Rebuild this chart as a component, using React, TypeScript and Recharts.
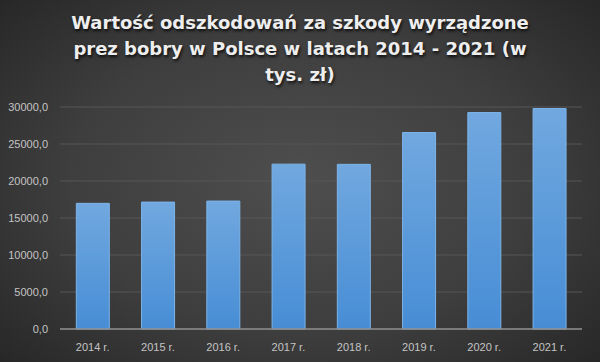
import React from 'react';
import { BarChart, Bar, XAxis, YAxis, CartesianGrid } from 'recharts';

const years = ['2014 r.', '2015 r.', '2016 r.', '2017 r.', '2018 r.', '2019 r.', '2020 r.', '2021 r.'];
const values = [16980, 17150, 17290, 22280, 22250, 26550, 29250, 29790];
const yTicks = [0, 5000, 10000, 15000, 20000, 25000, 30000];
const titleLines = [
  'Wartość odszkodowań za szkody wyrządzone',
  'prez bobry w Polsce w latach 2014 - 2021 (w',
  'tys. zł)',
];

const data = years.map((y, i) => ({ year: y, value: values[i] }));

const fmt = (v: number) => v.toFixed(1).replace('.', ',');

export default function App() {
  return (
    <div
      style={{
        position: 'absolute',
        left: 0,
        top: 0,
        width: 600,
        height: 362,
        background: 'radial-gradient(ellipse 70% 75% at 50% 50%, #4e4e4e 0%, #3e3e3e 55%, #262626 100%)',
        overflow: 'hidden',
      }}
    >
      <div
        style={{
          position: 'absolute',
          left: 0,
          top: 10,
          width: 600,
          textAlign: 'center',
          fontFamily: '"DejaVu Sans", Verdana, sans-serif',
          fontWeight: 'bold',
          fontSize: 18,
          lineHeight: '26px',
          color: '#eeeeee',
          textShadow: '1px 2px 3px rgba(0,0,0,0.8)',
        }}
      >
        {titleLines.map((l, i) => (
          <div key={i}>{l}</div>
        ))}
      </div>
      <div style={{ position: 'absolute', left: 0, top: 0 }}>
        <BarChart
          width={600}
          height={362}
          data={data}
          margin={{ top: 107, right: 18, bottom: 8, left: 0 }}
          barCategoryGap="25%"
        >
          <defs>
            <linearGradient id="barGrad" x1="0" y1="0" x2="0" y2="1">
              <stop offset="0%" stopColor="#71a8df" />
              <stop offset="100%" stopColor="#478dd5" />
            </linearGradient>
          </defs>
          <CartesianGrid vertical={false} stroke="#575757" strokeWidth={1} />
          <XAxis
            dataKey="year"
            axisLine={{ stroke: '#8c8c8c', strokeWidth: 1.5 }}
            tickLine={false}
            tick={{ fill: '#c4c4c4', fontSize: 11, fontFamily: '"Liberation Sans", Arial, sans-serif' }}
            height={25}
            tickMargin={8}
          />
          <YAxis
            domain={[0, 30000]}
            ticks={yTicks}
            tickFormatter={fmt}
            axisLine={false}
            tickLine={false}
            width={60}
            tickMargin={6}
            tick={{ fill: '#c4c4c4', fontSize: 11, fontFamily: '"Liberation Sans", Arial, sans-serif' }}
            interval={0}
          />
          <Bar
            dataKey="value"
            fill="url(#barGrad)"
            stroke="#7db4e8"
            strokeWidth={1}
            isAnimationActive={false}
          />
        </BarChart>
      </div>
    </div>
  );
}
